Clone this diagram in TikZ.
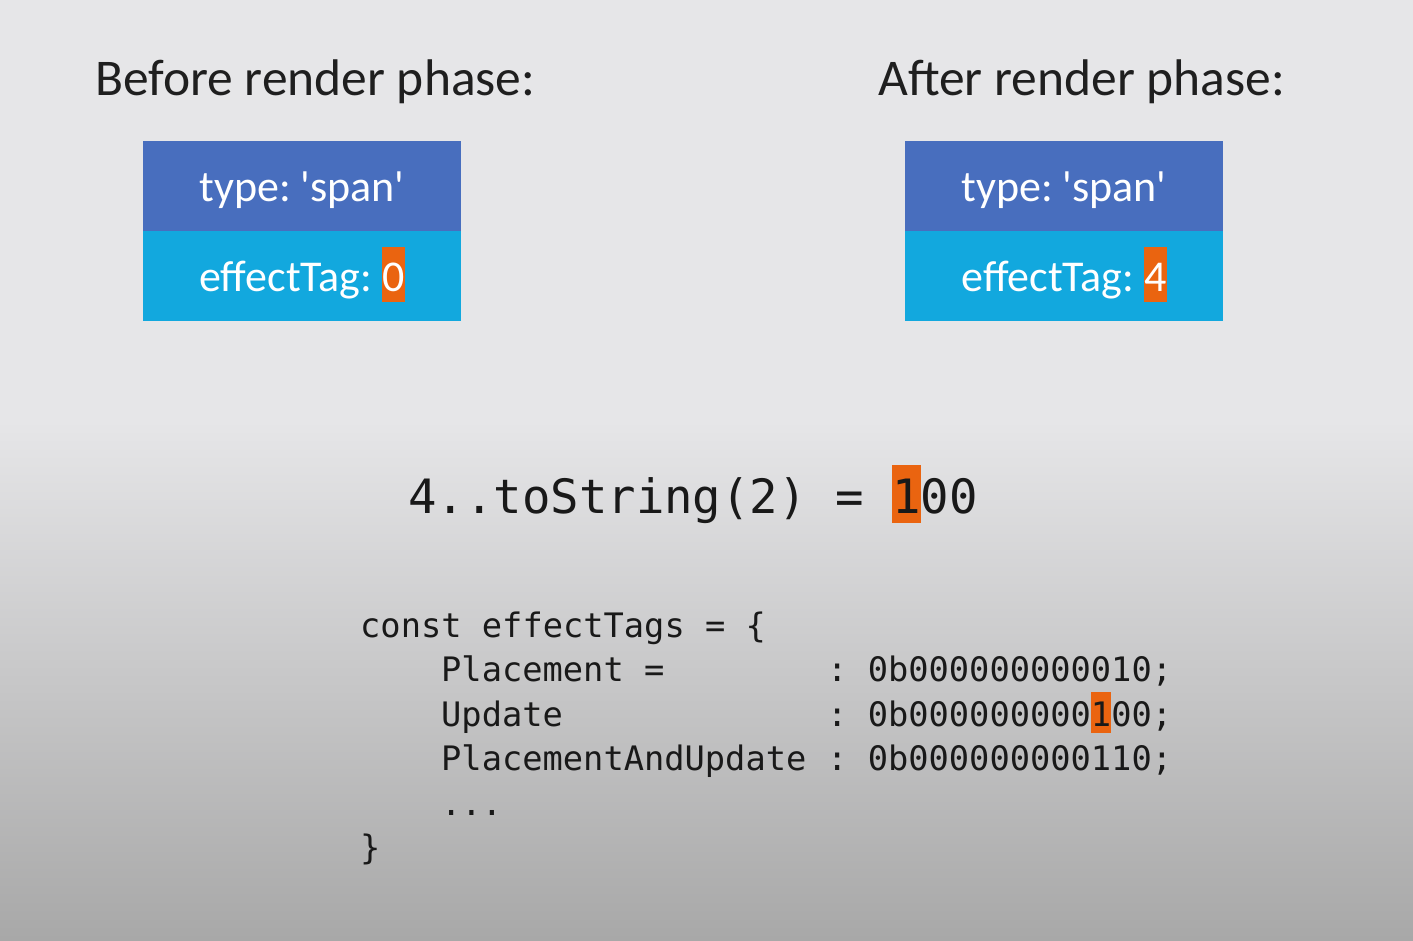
\documentclass[tikz,border=0pt]{standalone}
\usepackage{fontspec}
\setmainfont{Carlito}
\newfontfamily\codefont{DejaVu Sans Mono}
\usepackage{xcolor}
\usetikzlibrary{positioning}
\frenchspacing
\definecolor{bgtop}{RGB}{230,230,232}
\definecolor{bgbot}{RGB}{168,168,168}
\definecolor{typeblue}{RGB}{72,110,190}
\definecolor{tagblue}{RGB}{18,168,222}
\definecolor{hlorange}{RGB}{234,100,16}
\newcommand{\hlbit}[1]{{\setlength{\fboxsep}{0pt}\colorbox{hlorange}{\rule[-0.22em]{0pt}{1.24em}#1}}}

\begin{document}
\begin{tikzpicture}[
    x=1pt, y=1pt,
    heading/.style={anchor=base west, inner sep=0pt, text=black!88,
                    font=\fontsize{51.5}{60}\selectfont},
    typecell/.style={rectangle, fill=typeblue, text=white, inner sep=0pt,
                     minimum width=318pt, minimum height=90pt,
                     text height=42pt, text depth=10pt,
                     font=\fontsize{44}{52}\selectfont},
    tagcell/.style={rectangle, fill=tagblue, text=white, inner sep=0pt,
                    minimum width=318pt, minimum height=90pt,
                    text height=42pt, text depth=10pt,
                    font=\fontsize{44}{52}\selectfont},
    bigcode/.style={anchor=base west, inner sep=0pt, text=black!90,
                    font=\codefont\fontsize{47.3}{56}\selectfont},
    code/.style={anchor=base west, inner sep=0pt, text=black!90,
                 font=\codefont\fontsize{33.7}{44}\selectfont}
]

% Background
\fill[bgtop] (0,0) rectangle (1413,-420);
\shade[top color=bgtop, bottom color=bgbot] (0,-420) rectangle (1413,-940);
\useasboundingbox (0,0) rectangle (1413,-940);

% Headings
\node[heading] (before) at (95,-95) {Before render phase:};
\node[heading] (after) at (878,-95) {After render phase:};

% Fiber before
\node[typecell] (typeL) at (302,-185.5) {type: \textquotesingle span\textquotesingle};
\node[tagcell, below=0pt of typeL] (tagL) {effectTag: \hlbit{0}};

% Fiber after
\node[typecell] (typeR) at (1064,-185.5) {type: \textquotesingle span\textquotesingle};
\node[tagcell, below=0pt of typeR] (tagR) {effectTag: \hlbit{4}};

% Binary form
\node[bigcode] (bin) at (408,-513) {4..toString(2) = \hlbit{1}00};

% effectTags object
\node[code] (l0) at (360,-637) {const effectTags = \{};
\node[code] (n1) at (441,-681.5) {Placement =};
\node[code] (v1) at (827,-681.5) {: 0b000000000010;};
\node[code] (n2) at (441,-726) {Update};
\node[code] (v2) at (827,-726) {: 0b000000000\hlbit{1}00;};
\node[code] (n3) at (441,-770.5) {PlacementAndUpdate};
\node[code] (v3) at (827,-770.5) {: 0b000000000110;};
\node[code] (n4) at (441,-815) {...};
\node[code] (l5) at (360,-859.5) {\}};

\end{tikzpicture}
\end{document}
